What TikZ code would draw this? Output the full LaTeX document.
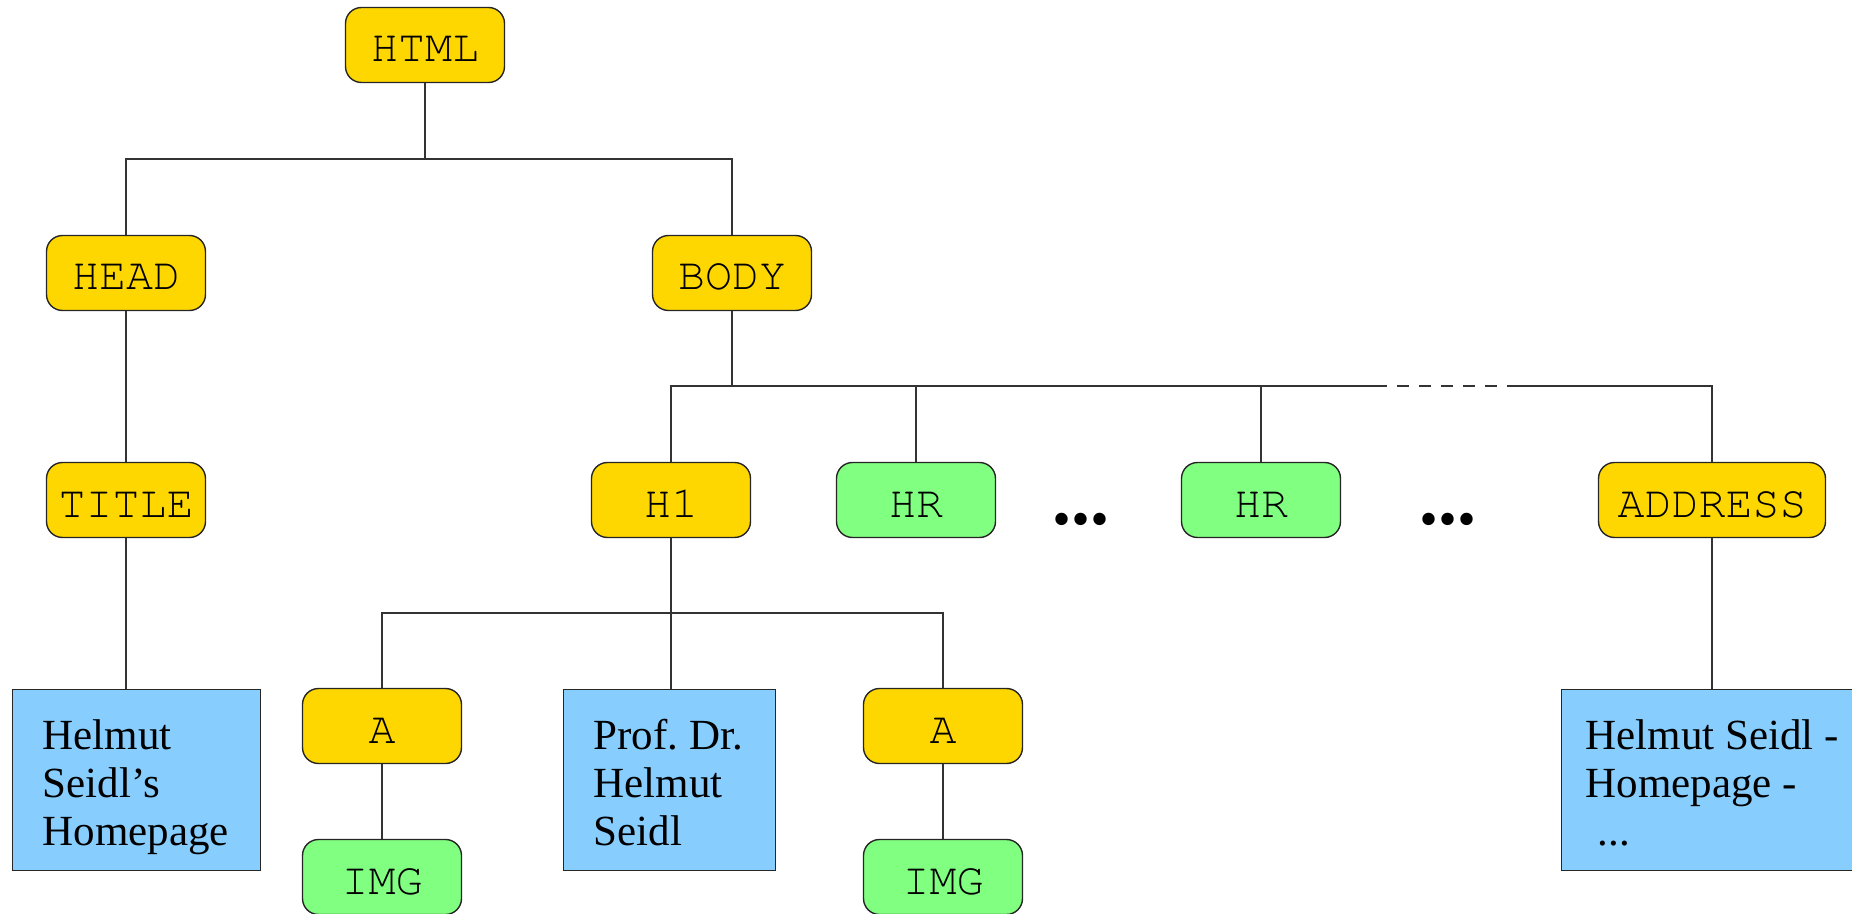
\documentclass[tikz,border=0pt]{standalone}
\usepackage[T1]{fontenc}
\usepackage{fontspec}
\setmainfont{Liberation Serif}
\newfontfamily\dotfont{Liberation Serif}
% Courier (URW Nimbus Mono) through the classic T1 encoding for element tags
\newcommand{\tagfont}{\fontencoding{T1}\fontfamily{pcr}\selectfont}
\definecolor{tagyellow}{HTML}{FFD700}
\definecolor{taggreen}{HTML}{80FF80}
\definecolor{textblue}{HTML}{87CEFF}

\begin{document}
\begin{tikzpicture}[x=0.5pt,y=-0.5pt,
  tag/.style={draw=black!85, line width=0.7pt, rounded corners=8pt,
    minimum width=79.5pt, minimum height=37.5pt, inner sep=0pt,
    text height=17pt, text depth=0pt,
    font=\fontsize{22.5}{27}\tagfont},
  ytag/.style={tag, fill=tagyellow},
  gtag/.style={tag, fill=taggreen},
  content/.style={draw=black!85, line width=0.7pt, fill=textblue,
    anchor=north west, inner xsep=#1, inner ysep=0pt,
    font=\fontsize{21.5}{24}\selectfont},
  ellipsis/.style={inner sep=0pt, font=\dotfont\bfseries\fontsize{38}{38}\selectfont},
  conn/.style={draw=black!80, line width=0.55pt}
]
\useasboundingbox (0,0) rectangle (1852,914);

% element nodes
\node[ytag] (html)    at (425,45)  {HTML};
\node[ytag] (head)    at (126,273) {HEAD};
\node[ytag] (body)    at (732,273) {BODY};
\node[ytag] (title)   at (126,500) {TITLE};
\node[ytag] (h1)      at (671,500) {H1};
\node[gtag] (hr1)     at (916,500) {HR};
\node[gtag] (hr2)     at (1261,500) {HR};
\node[ytag, minimum width=113.5pt] (address) at (1712,500) {ADDRESS};
\node[ytag] (a1)      at (382,726) {A};
\node[ytag] (a2)      at (943,726) {A};
\node[gtag] (img1)    at (382,877) {IMG};
\node[gtag] (img2)    at (943,877) {IMG};

\node[ellipsis] (dots1) at (1081,519) {...};
\node[ellipsis] (dots2) at (1448,519) {...};

% text content nodes
\node[content=15pt] (text1) at (12,689)
  {\parbox[c][90.5pt][t]{94pt}{\raggedright\rule{0pt}{30pt}Helmut\\Seidl’s\\Homepage}};
\node[content=15pt] (prof) at (563,689)
  {\parbox[c][90.5pt][t]{76pt}{\raggedright\rule{0pt}{30pt}Prof.~Dr.\\Helmut\\Seidl}};
\node[content=12pt] (addrtext) at (1561,689)
  {\parbox[c][90.5pt][t]{140pt}{\raggedright\rule{0pt}{30pt}Helmut Seidl -\\Homepage -\\\hspace*{6pt}...}};

% bus junctions
\coordinate (b1) at (425,159);
\coordinate (b2) at (732,386);
\coordinate (b3) at (671,613);
\coordinate (d1) at (1375,386);
\coordinate (d2) at (1510,386);

% HTML -> HEAD, BODY
\draw[conn] (html.south) -- (b1);
\draw[conn] (head.north) |- (b1) -| (body.north);

% HEAD -> TITLE -> text
\draw[conn] (head.south) -- (title.north);
\draw[conn] (title.south) -- (title.south |- text1.north);

% BODY -> children
\draw[conn] (body.south) -- (b2);
\draw[conn] (h1.north) |- (b2) -- (d1);
\draw[conn, dash pattern=on 6pt off 5pt] (d1) -- (d2);
\draw[conn] (d2) -| (address.north);
\draw[conn] (hr1.north) -- (hr1.north |- b2);
\draw[conn] (hr2.north) -- (hr2.north |- b2);

% H1 -> children
\draw[conn] (h1.south) -- (h1.south |- prof.north);
\draw[conn] (a1.north) |- (b3) -| (a2.north);
\draw[conn] (a1.south) -- (img1.north);
\draw[conn] (a2.south) -- (img2.north);

% ADDRESS -> text
\draw[conn] (address.south) -- (address.south |- addrtext.north);
\end{tikzpicture}
\end{document}
